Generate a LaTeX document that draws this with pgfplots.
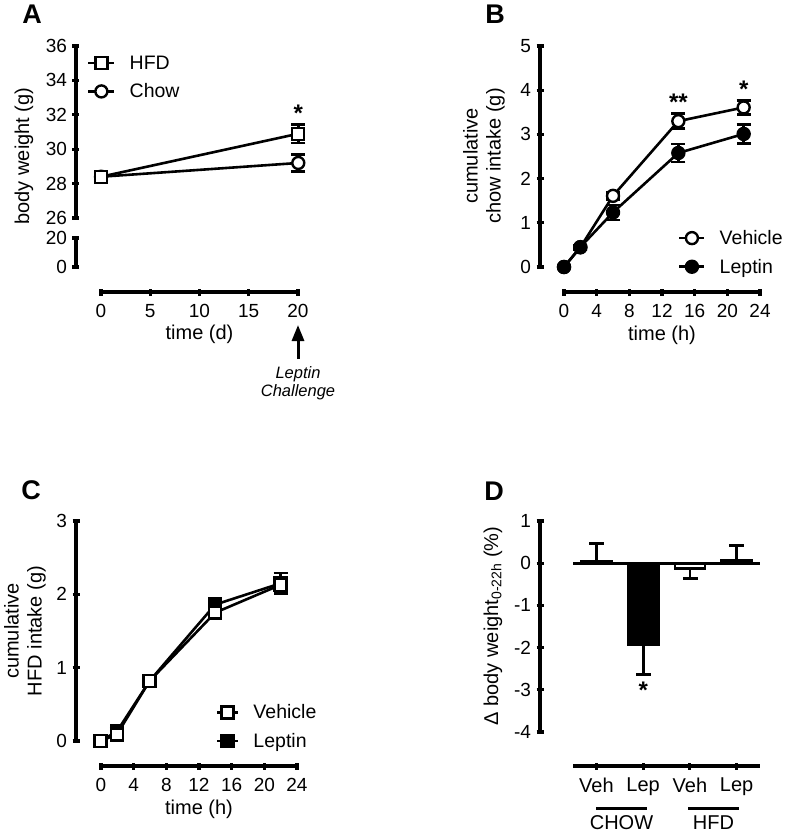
\documentclass[border=0pt]{standalone}
\usepackage{fontspec}
\setmainfont{Liberation Sans}
\usepackage{pgfplots}
\usepackage{pgfplotstable}
\pgfplotsset{compat=1.18}
\usetikzlibrary{arrows.meta}

\newcommand{\tickfont}{\fontsize{19}{21}\selectfont}
\newcommand{\labfont}{\fontsize{20}{23}\selectfont}
\newcommand{\legfont}{\fontsize{19.5}{22}\selectfont}
\newcommand{\starfont}{\bfseries\fontsize{24}{26}\selectfont}
\newcommand{\panelfont}{\bfseries\fontsize{27}{30}\selectfont}

% panel A: body weight (g)
\pgfplotstableread{
x  y    e
0  28.4 0.15
20 30.9 0.55
}\hfdA
\pgfplotstableread{
x  y    e
0  28.4 0.15
20 29.2 0.5
}\chowA
% panel B: cumulative chow intake (g)
\pgfplotstableread{
x  y     e
0  0     0.02
2  0.445 0.05
6  1.61  0.08
14 3.30  0.17
22 3.61  0.16
}\vehB
\pgfplotstableread{
x  y     e
0  0     0.02
2  0.45  0.05
6  1.235 0.17
14 2.58  0.20
22 3.01  0.22
}\lepB
% panel C: cumulative HFD intake (g)
\pgfplotstableread{
x  y    e
0  0    0.02
2  0.09 0.04
6  0.82 0.04
14 1.75 0.06
22 2.13 0.10
}\vehC
\pgfplotstableread{
x  y    e
0  0    0.02
2  0.13 0.04
6  0.82 0.04
14 1.86 0.09
22 2.15 0.14
}\lepC

\pgfplotsset{
  prism/.style={
    scale only axis, clip=false, anchor=south west,
    tick align=outside,
    major tick length=7pt,
    every tick/.style={black, line width=3.2pt},
    every tick label/.append style={font=\tickfont},
    tick label style={font=\tickfont},
    xticklabel style={yshift=-5pt},
    yticklabel style={xshift=-2pt},
    /pgf/number format/assume math mode=true,
  },
  nolinearrow/.style={
    axis line style={-, line width=3.2pt, black},
    every outer x axis line/.append style={-, line width=3.2pt},
    every outer y axis line/.append style={-, line width=3.2pt},
    every inner x axis line/.append style={-, line width=3.2pt},
    every inner y axis line/.append style={-, line width=3.2pt},
  },
  yonly/.style={prism, axis y line=left, axis x line=none, nolinearrow},
  xonly/.style={prism, axis x line=bottom, axis y line=none, ymin=0, ymax=1, height=1pt, nolinearrow},
  series/.style={black, line width=2.6pt, mark size=6pt,
    mark options={solid, line width=2.4pt, fill=#1}},
  errs/.style={forget plot, draw=none, mark=none,
    error bars/y dir=both, error bars/y explicit,
    error bars/error bar style={draw=black, solid, line width=2.6pt},
    error bars/error mark=-,
    error bars/error mark options={rotate=90, mark size=7pt, line width=2.6pt, draw=black}},
  barerr/.style={error bars/y explicit,
    error bars/error bar style={line width=2.6pt},
    error bars/error mark=-,
    error bars/error mark options={rotate=90, mark size=7.5pt, line width=2.6pt}},
  leg/.style={legend cell align=left,
    legend style={draw=none, fill=none, inner sep=0pt, font=\legfont,
      row sep=9pt, column sep=12pt, anchor=west},
    legend image code/.code={\draw[mark repeat=2,mark phase=2]
      plot coordinates {(0pt,0pt) (#1,0pt) (2*#1,0pt)};}},
}

\begin{document}
\begin{tikzpicture}
\path[use as bounding box] (0,0) rectangle (787pt,-833pt);

% ---------- A ----------
\node[font=\panelfont] at (32pt,-14pt) {A};
\begin{axis}[yonly, at={(76pt,-218pt)}, width=242pt, height=172pt,
  xmin=-2.54, xmax=22, ymin=26, ymax=36, ytick={26,28,...,36},
  leg=13pt, reverse legend, legend style={at={(0.045,0.817)}}]
\addplot[errs] table[x=x, y=y, y error=e] {\chowA};
\addplot[errs] table[x=x, y=y, y error=e] {\hfdA};
\addplot[series=white, mark=*] table[x=x, y=y] {\chowA};
\addlegendentry{Chow}
\addplot[series=white, mark=square*] table[x=x, y=y] {\hfdA};
\addlegendentry{HFD}
\node[font=\starfont] at (axis cs:20,32.1) {*};
\end{axis}
\begin{axis}[yonly, at={(76pt,-267pt)}, width=242pt, height=29pt,
  xmin=-2.54, xmax=22, ymin=0, ymax=20, ytick={0,20}]
\end{axis}
\begin{axis}[xonly, at={(101pt,-292pt)}, width=197pt,
  xmin=0, xmax=20, xtick={0,5,...,20}]
\end{axis}
\node[font=\labfont] at (199.5pt,-334pt) {time (d)};
\node[rotate=90, font=\labfont] at (24pt,-156pt) {body weight (g)};
\draw[line width=3pt, -{Triangle[width=12pt,length=16pt]}] (298pt,-359pt) -- (298pt,-325pt);
\node[font=\itshape\fontsize{16.5}{18.5}\selectfont, align=center] at (298pt,-383pt) {Leptin\\Challenge};

% ---------- B ----------
\node[font=\panelfont] at (495pt,-14pt) {B};
\begin{axis}[yonly, at={(540pt,-267pt)}, width=220pt, height=221pt,
  xmin=-2.94, xmax=24, ymin=0, ymax=5, ytick={0,...,5},
  leg=12.5pt, legend style={at={(0.627,0.066)}}]
\addplot[errs] table[x=x, y=y, y error=e] {\vehB};
\addplot[errs] table[x=x, y=y, y error=e] {\lepB};
\addplot[series=white, mark=*] table[x=x, y=y] {\vehB};
\addlegendentry{Vehicle}
\addplot[series=black, mark=*] table[x=x, y=y] {\lepB};
\addlegendentry{Leptin}
\node[font=\starfont] at (axis cs:14,3.72) {**};
\node[font=\starfont] at (axis cs:22,4.02) {*};
\end{axis}
\begin{axis}[xonly, at={(564pt,-292pt)}, width=196pt,
  xmin=0, xmax=24, xtick={0,4,...,24}]
\end{axis}
\node[font=\labfont] at (662pt,-335pt) {time (h)};
\node[rotate=90, font=\labfont, align=center] at (484pt,-156pt) {cumulative\\chow intake (g)};

% ---------- C ----------
\node[font=\panelfont] at (31pt,-490pt) {C};
\begin{axis}[yonly, at={(76pt,-741pt)}, width=221pt, height=220pt,
  xmin=-3.0, xmax=24, ymin=0, ymax=3, ytick={0,...,3},
  leg=10.5pt, reverse legend, legend style={at={(0.632,0.065)}}]
\addplot[errs] table[x=x, y=y, y error=e] {\lepC};
\addplot[errs] table[x=x, y=y, y error=e] {\vehC};
\addplot[series=black, mark=square*] table[x=x, y=y] {\lepC};
\addlegendentry{Leptin}
\addplot[series=white, mark=square*] table[x=x, y=y] {\vehC};
\addlegendentry{Vehicle}
\end{axis}
\begin{axis}[xonly, at={(101pt,-766pt)}, width=196pt,
  xmin=0, xmax=24, xtick={0,4,...,24}]
\end{axis}
\node[font=\labfont] at (199pt,-809pt) {time (h)};
\node[rotate=90, font=\labfont, align=center] at (25pt,-631pt) {cumulative\\HFD intake (g)};

% ---------- D ----------
\node[font=\panelfont] at (494pt,-491pt) {D};
\begin{axis}[yonly, at={(540pt,-732pt)}, width=220pt, height=211pt,
  xmin=-0.215, xmax=4.5, ymin=-4, ymax=1, ytick={-4,...,1},
  yticklabels={-4,-3,-2,-1,0,1}]
\addplot[ybar, bar width=0.643, bar shift=0pt, fill=white, draw=black, line width=2.4pt,
  barerr, error bars/y dir=plus] coordinates {(1,0.04) +- (0,0.43)};
\addplot[ybar, bar width=0.643, bar shift=0pt, fill=black, draw=black, line width=2.4pt,
  barerr, error bars/y dir=minus] coordinates {(2,-1.93) +- (0,0.71)};
\addplot[ybar, bar width=0.643, bar shift=0pt, fill=white, draw=black, line width=2.4pt,
  barerr, error bars/y dir=minus] coordinates {(3,-0.13) +- (0,0.23)};
\addplot[ybar, bar width=0.643, bar shift=0pt, fill=black, draw=black, line width=2.4pt,
  barerr, error bars/y dir=plus] coordinates {(4,0.06) +- (0,0.36)};
\addplot[black, line width=3.2pt, no marks] coordinates {(0.5,0) (4.5,0)};
\node[font=\starfont] at (axis cs:2,-3.0) {*};
\end{axis}
\begin{axis}[xonly, at={(573pt,-766pt)}, width=187pt,
  xmin=0.5, xmax=4.5, xtick={1,2,3,4}, xticklabels={Veh,Lep,Veh,Lep},
  xticklabel style={font=\labfont}]
\end{axis}
\node[rotate=90, font=\labfont] at (493pt,-626pt) {Δ body weight\textsubscript{0-22h} (\%)};
\draw[line width=3pt] (596pt,-808pt) -- (647pt,-808pt);
\draw[line width=3pt] (688pt,-808pt) -- (739pt,-808pt);
\node[font=\labfont, inner sep=0pt] at (621.5pt,-823pt) {CHOW};
\node[font=\labfont, inner sep=0pt] at (713.5pt,-823pt) {HFD};
\end{tikzpicture}
\end{document}
